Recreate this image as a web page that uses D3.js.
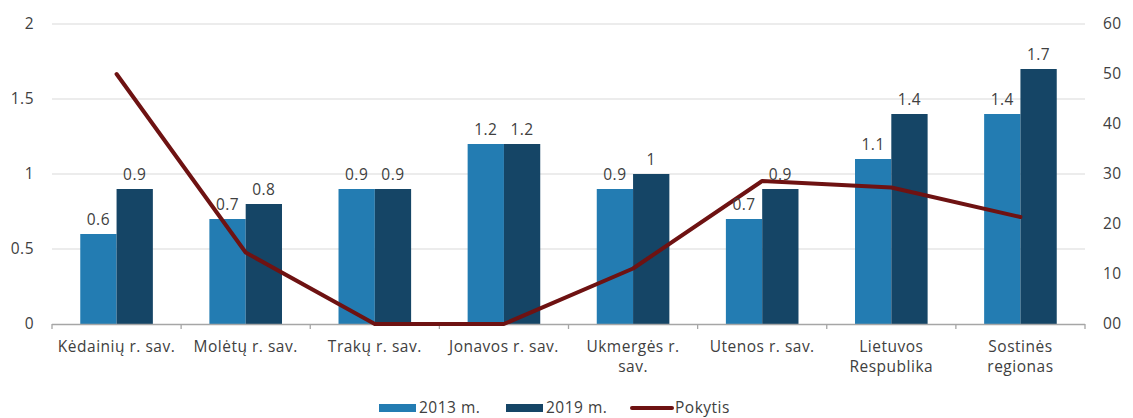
<!DOCTYPE html>
<html>
<head>
<meta charset="utf-8">
<script src="https://cdn.jsdelivr.net/npm/d3@7"></script>
<style>
  body { margin: 0; background: #fff; }
  svg text { font-family: "Open Sans", sans-serif; fill: #404040; letter-spacing: 0.5px; }
</style>
</head>
<body>
<svg width="1133" height="418"></svg>
<script>
const categories = [
  ["Kėdainių r. sav."], ["Molėtų r. sav."], ["Trakų r. sav."], ["Jonavos r. sav."],
  ["Ukmergės r.", "sav."], ["Utenos r. sav."], ["Lietuvos", "Respublika"], ["Sostinės", "regionas"]
];
const v2013 = [0.6, 0.7, 0.9, 1.2, 0.9, 0.7, 1.1, 1.4];
const v2019 = [0.9, 0.8, 0.9, 1.2, 1.0, 0.9, 1.4, 1.7];
const pokytis = [50, 14.3, 0, 0, 11.1, 28.6, 27.3, 21.4];
const leftTicks = [0, 0.5, 1, 1.5, 2];
const rightTicks = [0, 10, 20, 30, 40, 50, 60];
const seriesNames = ["2013 m.", "2019 m.", "Pokytis"];
const colors = ["#237CB2", "#154566", "#6E1212"];

const svg = d3.select("svg");
const mLeft = 52, mRight = 1085, mTop = 24, mBottom = 324;
const idx = categories.map((d, i) => i);
const fs = "15.5px";

const x = d3.scaleBand().domain(idx).range([mLeft, mRight]);
const y = d3.scaleLinear().domain([0, 2]).range([mBottom, mTop]);
const y2 = d3.scaleLinear().domain([0, 60]).range([mBottom, mTop]);

// gridlines
svg.append("g").selectAll("line").data(leftTicks.slice(1)).join("line")
  .attr("x1", mLeft).attr("x2", mRight)
  .attr("y1", d => y(d)).attr("y2", d => y(d))
  .attr("stroke", "#D9D9D9").attr("stroke-width", 1);

// left axis
const ya = svg.append("g").attr("transform", `translate(${mLeft},0)`)
  .call(d3.axisLeft(y).tickValues(leftTicks).tickFormat(d => d).tickSize(0).tickPadding(18));
ya.select(".domain").remove();
ya.selectAll("text").style("font-size", fs).style("font-family", "Open Sans").attr("fill", "#404040");

// right axis
const ra = svg.append("g").attr("transform", `translate(${mRight},0)`)
  .call(d3.axisRight(y2).tickValues(rightTicks).tickFormat(d => d3.format("02")(d)).tickSize(0).tickPadding(18));
ra.select(".domain").remove();
ra.selectAll("text").style("font-size", fs).style("font-family", "Open Sans").attr("fill", "#404040");

// bars
const bw = 36.3;
const series = [v2013, v2019];
series.forEach((vals, s) => {
  svg.append("g").selectAll("rect").data(vals).join("rect")
    .attr("x", (d, i) => x(i) + x.bandwidth() / 2 - bw + s * bw)
    .attr("width", bw)
    .attr("y", d => y(d))
    .attr("height", d => mBottom - y(d))
    .attr("fill", colors[s]);
});

// x axis
svg.append("line").attr("x1", mLeft).attr("x2", mRight).attr("y1", mBottom + 0.5).attr("y2", mBottom + 0.5)
  .attr("stroke", "#A6A6A6").attr("stroke-width", 1.3);
svg.append("g").selectAll("line").data(idx.concat([idx.length])).join("line")
  .attr("x1", d => d < idx.length ? x(d) : mRight).attr("x2", d => d < idx.length ? x(d) : mRight)
  .attr("y1", mBottom).attr("y2", mBottom + 5)
  .attr("stroke", "#A6A6A6").attr("stroke-width", 1.3);

// category labels, one text per line
const cg = svg.append("g");
categories.forEach((lines, i) => {
  lines.forEach((t, k) => {
    cg.append("text")
      .attr("x", x(i) + x.bandwidth() / 2)
      .attr("y", 352 + k * 20)
      .attr("text-anchor", "middle")
      .style("font-size", fs)
      .text(t);
  });
});

// line
const line = d3.line().x((d, i) => x(i) + x.bandwidth() / 2).y(d => y2(d));
svg.append("path").datum(pokytis)
  .attr("d", line)
  .attr("fill", "none")
  .attr("stroke", colors[2])
  .attr("stroke-width", 4)
  .attr("stroke-linejoin", "round")
  .attr("stroke-linecap", "round");

// data labels on top of the line
series.forEach((vals, s) => {
  svg.append("g").selectAll("text").data(vals).join("text")
    .attr("x", (d, i) => x(i) + x.bandwidth() / 2 - bw / 2 + s * bw)
    .attr("y", d => y(d) - 9)
    .attr("text-anchor", "middle")
    .style("font-size", fs)
    .text(d => d);
});

// legend
const leg = svg.append("g");
const lx = [379, 506, 632];
leg.selectAll("rect").data([0, 1]).join("rect")
  .attr("x", d => lx[d]).attr("y", 404).attr("width", 37).attr("height", 8)
  .attr("fill", d => colors[d]);
leg.append("line").attr("x1", lx[2]).attr("x2", lx[2] + 40).attr("y1", 408).attr("y2", 408)
  .attr("stroke", colors[2]).attr("stroke-width", 4).attr("stroke-linecap", "round");
leg.selectAll("text").data(seriesNames).join("text")
  .attr("x", (d, i) => i < 2 ? lx[i] + 40 : lx[2] + 43)
  .attr("y", 413)
  .style("font-size", fs)
  .text(d => d);
</script>
</body>
</html>
